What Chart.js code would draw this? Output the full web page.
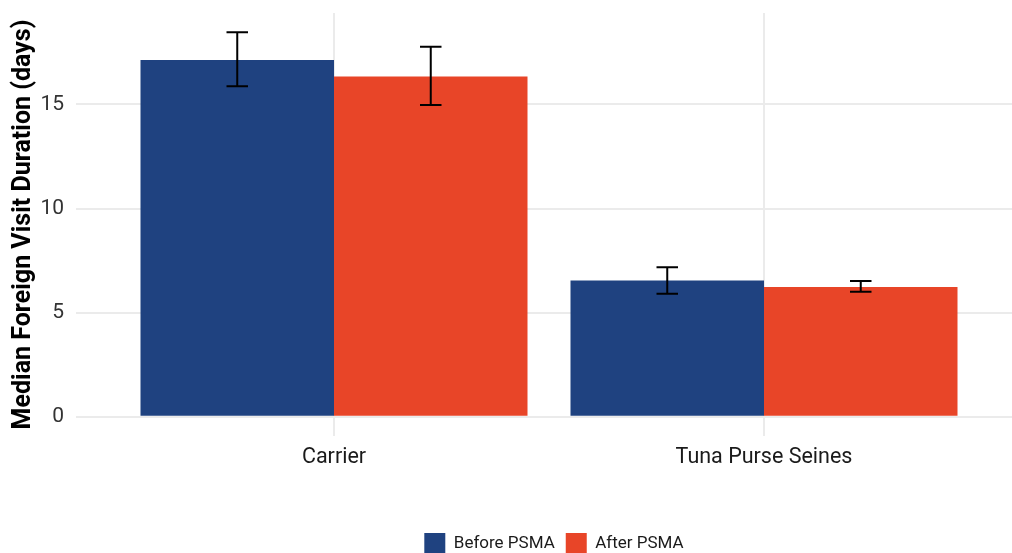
<!DOCTYPE html>
<html>
<head>
<meta charset="utf-8">
<script src="https://cdn.jsdelivr.net/npm/chart.js@4.4.1/dist/chart.umd.min.js"></script>
<style>
  html, body { margin: 0; padding: 0; background: #ffffff; overflow: hidden; }
  #wrap { width: 1108px; height: 564px; position: relative; }
</style>
</head>
<body>
<div id="wrap"><canvas id="chart"></canvas></div>
<script>
// Vessel classes along the x axis
const categories = ['Carrier', 'Tuna Purse Seines'];

// Median foreign visit duration (days)
const beforeValues = [17.14, 6.54];
const afterValues  = [16.34, 6.23];

// Error bar bounds (days)
const beforeLow  = [15.87, 5.91];
const beforeHigh = [18.47, 7.18];
const afterLow   = [14.98, 6.00];
const afterHigh  = [17.77, 6.52];

const yTicks = [0, 5, 10, 15];

const seriesNames = ['Before PSMA', 'After PSMA'];
const seriesColors = ['#1f4280', '#e84528'];

const toPoints = vals => vals.map((v, i) => ({ x: i + 1, y: v }));

const errorBars = {
  id: 'errorBars',
  afterDatasetsDraw(chart) {
    const ctx = chart.ctx;
    const xs = chart.scales.x;
    const ys = chart.scales.y;
    const capHalf = xs.getPixelForValue(1.025) - xs.getPixelForValue(1);
    const bounds = [[beforeLow, beforeHigh], [afterLow, afterHigh]];
    ctx.save();
    ctx.strokeStyle = '#000000';
    ctx.lineWidth = 2;
    chart.data.datasets.forEach((ds, di) => {
      const meta = chart.getDatasetMeta(di);
      meta.data.forEach((bar, i) => {
        const lo = ys.getPixelForValue(bounds[di][0][i]);
        const hi = ys.getPixelForValue(bounds[di][1][i]);
        const x = bar.x;
        ctx.beginPath();
        ctx.moveTo(x, lo); ctx.lineTo(x, hi);
        ctx.moveTo(x - capHalf, lo); ctx.lineTo(x + capHalf, lo);
        ctx.moveTo(x - capHalf, hi); ctx.lineTo(x + capHalf, hi);
        ctx.stroke();
      });
    });
    ctx.restore();
  }
};

const yMax = Math.max(...beforeHigh, ...afterHigh);
const pad = yMax * 0.05;

new Chart(document.getElementById('chart'), {
  type: 'bar',
  data: {
    datasets: [
      { label: seriesNames[0], data: toPoints(beforeValues), backgroundColor: seriesColors[0], borderWidth: 0 },
      { label: seriesNames[1], data: toPoints(afterValues), backgroundColor: seriesColors[1], borderWidth: 0 }
    ]
  },
  options: {
    responsive: true,
    maintainAspectRatio: false,
    animation: false,
    categoryPercentage: 0.9,
    barPercentage: 1.0,
    layout: { padding: { top: 13, left: 0, right: 0, bottom: 0 } },
    plugins: {
      tooltip: { enabled: false },
      legend: {
        position: 'bottom',
        labels: {
          boxWidth: 21,
          boxHeight: 21,
          padding: 11,
          color: '#1a1a1a',
          font: { family: 'Roboto', size: 17 }
        }
      }
    },
    scales: {
      x: {
        type: 'linear',
        min: 0.4,
        max: 2.8,
        offset: false,
        afterBuildTicks: s => { s.ticks = categories.map((c, i) => ({ value: i + 1 })); },
        afterFit: s => { s.height = 86; s.paddingTop = 0; s.paddingBottom = 0; },
        grid: { color: '#ebebeb', lineWidth: 2, drawTicks: false, offset: false },
        border: { display: false },
        ticks: {
          callback: v => categories[v - 1] || '',
          color: '#1a1a1a',
          padding: 9,
          maxRotation: 0,
          autoSkip: false,
          font: { family: 'Roboto', size: 21.5 }
        }
      },
      y: {
        min: -pad,
        max: yMax + pad,
        afterBuildTicks: s => { s.ticks = yTicks.map(v => ({ value: v })); },
        afterFit: s => { s.width = 76; s.paddingTop = 0; s.paddingBottom = 0; },
        grid: { color: '#ebebeb', lineWidth: 2, drawTicks: false },
        border: { display: false },
        ticks: {
          color: '#333333',
          padding: 12,
          font: { family: 'Roboto', size: 21 }
        },
        title: {
          display: true,
          text: 'Median Foreign Visit Duration (days)',
          color: '#000000',
          padding: { top: 9, bottom: 0 },
          font: { family: 'Roboto', size: 25, weight: 'bold' }
        }
      }
    }
  },
  plugins: [errorBars]
});
</script>
</body>
</html>
